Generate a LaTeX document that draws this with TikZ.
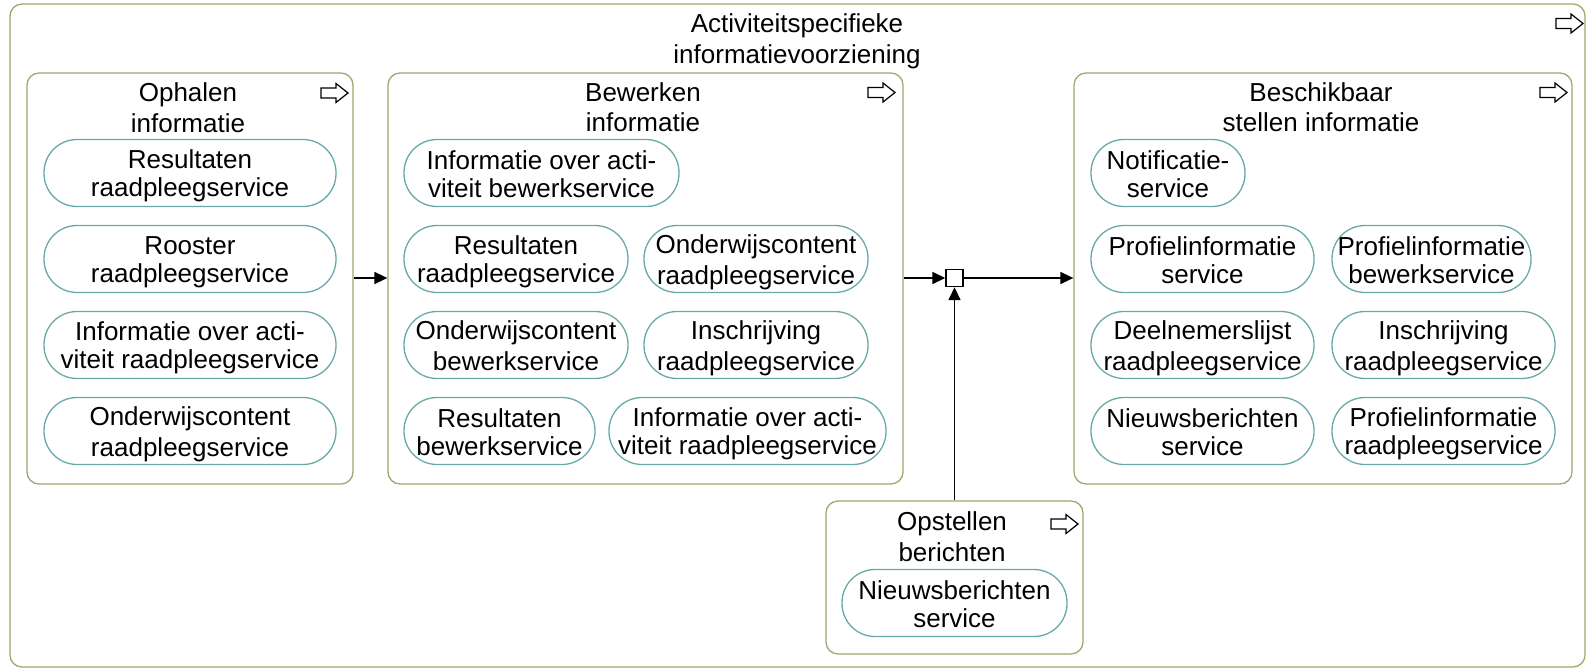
\documentclass[tikz,border=0pt]{standalone}
\usepackage{fontspec}
\setmainfont{Liberation Sans}
\usetikzlibrary{arrows.meta}

\definecolor{boxolive}{RGB}{165,165,110}
\definecolor{pillteal}{RGB}{105,168,168}

% fixed line heights so two-line labels sit the same way whatever their letters
\newcommand\pillstrut{\rule[-4pt]{0pt}{28.5pt}}
\newcommand\titlestrut{\rule[-5pt]{0pt}{30pt}}
\newcommand\pilltext[2]{\pillstrut #1\\\pillstrut #2}
\newcommand\titletext[2]{\titlestrut #1\\\titlestrut #2}

\begin{document}
\begin{tikzpicture}[x=1pt,y=-1pt,
  container/.style={draw=boxolive, line width=1.3pt, rounded corners=12pt, inner sep=0pt},
  service/.style={draw=pillteal, line width=1.3pt, rounded corners=33pt,
    minimum height=67pt, inner sep=0pt, align=center,
    font=\fontsize{26}{28.5}\selectfont},
  title/.style={anchor=north, inner sep=0pt, align=center,
    font=\fontsize{26}{30}\selectfont},
  flow/.style={line width=1.6pt, -{Triangle[length=13pt,width=12pt]}},
  junction/.style={draw, fill=white, line width=1.4pt, minimum size=17pt, inner sep=0pt},
  procicon/.pic={
    \draw[line width=1.2pt, fill=white, line join=miter]
      (0,-5) -- (15,-5) -- (15,-9.5) -- (27,0) -- (15,9.5) -- (15,5) -- (0,5) -- cycle;
  }
]
\useasboundingbox (0,0) rectangle (1587,669);

% process containers
\node[container, minimum width=1575pt, minimum height=663pt] (act) at (797.5,335.5) {};
\node[container, minimum width=326pt, minimum height=411pt] (oph) at (190,278.5) {};
\node[container, minimum width=515pt, minimum height=411pt] (bew) at (645.5,278.5) {};
\node[container, minimum width=498pt, minimum height=411pt] (bes) at (1323,278.5) {};
\node[container, minimum width=257pt, minimum height=153pt] (ops) at (954.5,577.5) {};

% container titles
\node[title] (actT) at (797,7) {\titletext{Activiteitspecifieke}{informatievoorziening}};
\node[title] (ophT) at (188,76) {\titletext{Ophalen}{informatie}};
\node[title] (bewT) at (643,76) {\titletext{Bewerken}{informatie}};
\node[title] (besT) at (1321,76) {\titletext{Beschikbaar}{stellen informatie}};
\node[title] (opsT) at (952,505) {\titletext{Opstellen}{berichten}};

% process icons
\pic (icAct) at (1556,23.5) {procicon};
\pic (icOph) at (321,93) {procicon};
\pic (icBew) at (868,92.5) {procicon};
\pic (icBes) at (1540,92.5) {procicon};
\pic (icOps) at (1051,524) {procicon};

% Ophalen informatie
\node[service, minimum width=292pt] (o1) at (190,173) {\pilltext{Resultaten}{raadpleegservice}};
\node[service, minimum width=292pt] (o2) at (190,259) {\pilltext{Rooster}{raadpleegservice}};
\node[service, minimum width=292pt] (o3) at (190,345) {\pilltext{Informatie over acti-}{viteit raadpleegservice}};
\node[service, minimum width=292pt] (o4) at (190,431) {\pilltext{Onderwijscontent}{raadpleegservice}};

% Bewerken informatie
\node[service, minimum width=275pt] (b1) at (541.5,173) {\pilltext{Informatie over acti-}{viteit bewerkservice}};
\node[service, minimum width=224pt] (b2) at (516,259) {\pilltext{Resultaten}{raadpleegservice}};
\node[service, minimum width=224pt] (b3) at (756,259) {\pilltext{Onderwijscontent}{raadpleegservice}};
\node[service, minimum width=224pt] (b4) at (516,345) {\pilltext{Onderwijscontent}{bewerkservice}};
\node[service, minimum width=224pt] (b5) at (756,345) {\pilltext{Inschrijving}{raadpleegservice}};
\node[service, minimum width=191pt] (b6) at (499.5,431) {\pilltext{Resultaten}{bewerkservice}};
\node[service, minimum width=277pt] (b7) at (747.5,431) {\pilltext{Informatie over acti-}{viteit raadpleegservice}};

% Beschikbaar stellen informatie
\node[service, minimum width=154pt] (n1) at (1168,173) {\pilltext{Notificatie-}{service}};
\node[service, minimum width=223pt] (n2) at (1202.5,259) {\pilltext{Profielinformatie}{service}};
\node[service, minimum width=199pt] (n3) at (1431.5,259) {\pilltext{Profielinformatie}{bewerkservice}};
\node[service, minimum width=223pt] (n4) at (1202.5,345) {\pilltext{Deelnemerslijst}{raadpleegservice}};
\node[service, minimum width=223pt] (n5) at (1443.5,345) {\pilltext{Inschrijving}{raadpleegservice}};
\node[service, minimum width=223pt] (n6) at (1202.5,431) {\pilltext{Nieuwsberichten}{service}};
\node[service, minimum width=223pt] (n7) at (1443.5,431) {\pilltext{Profielinformatie}{raadpleegservice}};

% Opstellen berichten
\node[service, minimum width=225pt] (s1) at (954.5,603) {\pilltext{Nieuwsberichten}{service}};

% flow junction and triggers
\node[junction] (jn) at (954.5,278) {};
\draw[flow] (oph.east |- jn) -- (bew.west |- jn);
\draw[flow] (bew.east |- jn) -- (jn.west);
\draw[flow] (jn.east) -- (bes.west |- jn);
\draw[flow] (ops.north) -- (jn.south);
\end{tikzpicture}
\end{document}
